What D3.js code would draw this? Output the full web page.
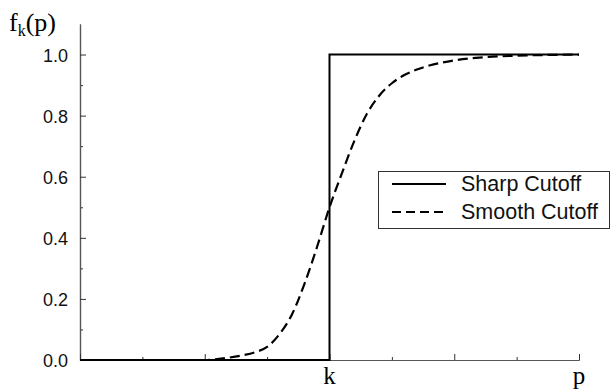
<!DOCTYPE html>
<html>
<head>
<meta charset="utf-8">
<script src="https://cdn.jsdelivr.net/npm/d3@7"></script>
<style>
  body { margin: 0; background: #fff; }
  svg { display: block; }
</style>
</head>
<body>
<div id="chart"></div>
<script>
// smooth cutoff (x in units where k = 2, p = 4)
var smoothX = [0, 1.0, 1.1, 1.2, 1.3, 1.4, 1.5, 1.6, 1.7, 1.8, 1.9, 2.0, 2.1, 2.2, 2.3, 2.4, 2.5, 2.6, 2.7, 2.8, 3.0, 3.2, 3.5, 4.0];
var smoothY = [0, 0, 0.003, 0.008, 0.015, 0.025, 0.043, 0.085, 0.15, 0.25, 0.37, 0.5, 0.612, 0.718, 0.806, 0.866, 0.906, 0.933, 0.951, 0.964, 0.981, 0.99, 0.996, 1.0];
// sharp cutoff: step at k
var sharpX = [0, 2, 2, 4];
var sharpY = [0, 0, 1, 1];
var yTicks = [0, 0.2, 0.4, 0.6, 0.8, 1.0];
var yMinor = [0.1, 0.3, 0.5, 0.7, 0.9];
var xMajor = [0, 1, 2, 3, 4];
var xMinor = [0.5, 1.5, 2.5, 3.5];
var xLabels = [{v: 2, t: "k"}, {v: 4, t: "p"}];
var legendItems = [{name: "Sharp Cutoff", dash: null}, {name: "Smooth Cutoff", dash: "9,5"}];

var svg = d3.select("#chart")
    .append("svg")
    .attr("width", 611)
    .attr("height", 389);

var x = d3.scaleLinear().domain([0, 4]).range([80, 579]);
var y = d3.scaleLinear().domain([0, 1.1]).range([360, 24]);

//Axes, ticks pointing inward
function styleAxis(g) {
    g.select(".domain").attr("stroke", "#555").attr("stroke-width", 1.2);
    g.selectAll(".tick line").attr("stroke", "#333");
}

svg.append("g")
    .attr("transform", "translate(80,0)")
    .call(d3.axisLeft(y).tickValues(yMinor).tickSize(-3).tickSizeOuter(0).tickFormat(""))
    .call(styleAxis);

var yAxis = svg.append("g")
    .attr("transform", "translate(80,0)")
    .call(d3.axisLeft(y).tickValues(yTicks).tickSize(-6).tickSizeOuter(0).tickFormat(d3.format(".1f")))
    .call(styleAxis);
yAxis.selectAll("text")
    .attr("x", -12)
    .attr("dy", "0.36em")
    .style("font-family", "'Liberation Sans', Arial, sans-serif")
    .style("font-size", "18px")
    .attr("fill", "#111");

svg.append("g")
    .attr("transform", "translate(0,360)")
    .call(d3.axisBottom(x).tickValues(xMinor).tickSize(-3).tickSizeOuter(0).tickFormat(""))
    .call(styleAxis);
svg.append("g")
    .attr("transform", "translate(0,360)")
    .call(d3.axisBottom(x).tickValues(xMajor).tickSize(-6).tickSizeOuter(0).tickFormat(""))
    .call(styleAxis);

svg.selectAll("text.xlab")
    .data(xLabels)
    .enter()
    .append("text")
    .attr("class", "xlab")
    .attr("x", function (d) { return x(d.v); })
    .attr("y", 384)
    .attr("text-anchor", "middle")
    .style("font-family", "'Liberation Serif', 'Times New Roman', serif")
    .style("font-size", "25px")
    .text(function (d) { return d.t; });

//y axis title f_k(p)
var title = svg.append("text")
    .attr("x", 9)
    .attr("y", 31)
    .style("font-family", "'Liberation Serif', 'Times New Roman', serif")
    .style("font-size", "26px");
title.append("tspan").text("f");
title.append("tspan").attr("dy", 5).style("font-size", "16px").text("k");
title.append("tspan").attr("dy", -5).text("(p)");

//Curves
var line = d3.line()
    .x(function (d) { return x(d[0]); })
    .y(function (d) { return y(d[1]); });

svg.append("path")
    .datum(sharpX.map(function (v, i) { return [v, sharpY[i]]; }))
    .attr("d", line)
    .attr("fill", "none")
    .attr("stroke", "#000")
    .attr("stroke-width", 2);

svg.append("path")
    .datum(smoothX.map(function (v, i) { return [v, smoothY[i]]; }))
    .attr("d", line.curve(d3.curveMonotoneX))
    .attr("fill", "none")
    .attr("stroke", "#000")
    .attr("stroke-width", 2.2)
    .attr("stroke-dasharray", "10,5");

//Legend
var legend = svg.append("g");
legend.append("rect")
    .attr("x", 378.5)
    .attr("y", 171.5)
    .attr("width", 231)
    .attr("height", 57)
    .attr("fill", "#fff")
    .attr("stroke", "#333")
    .attr("stroke-width", 1);

var entries = legend.selectAll("g.entry")
    .data(legendItems)
    .enter()
    .append("g")
    .attr("class", "entry")
    .attr("transform", function (d, i) { return "translate(0," + (184 + i * 28) + ")"; });

entries.append("line")
    .attr("x1", 392)
    .attr("x2", 446)
    .attr("stroke", "#000")
    .attr("stroke-width", 1.8)
    .attr("stroke-dasharray", function (d) { return d.dash; });

entries.append("text")
    .attr("x", 461)
    .attr("y", 7)
    .style("font-family", "'Liberation Sans', Arial, sans-serif")
    .style("font-size", "21.5px")
    .attr("fill", "#111")
    .text(function (d) { return d.name; });
</script>
</body>
</html>
